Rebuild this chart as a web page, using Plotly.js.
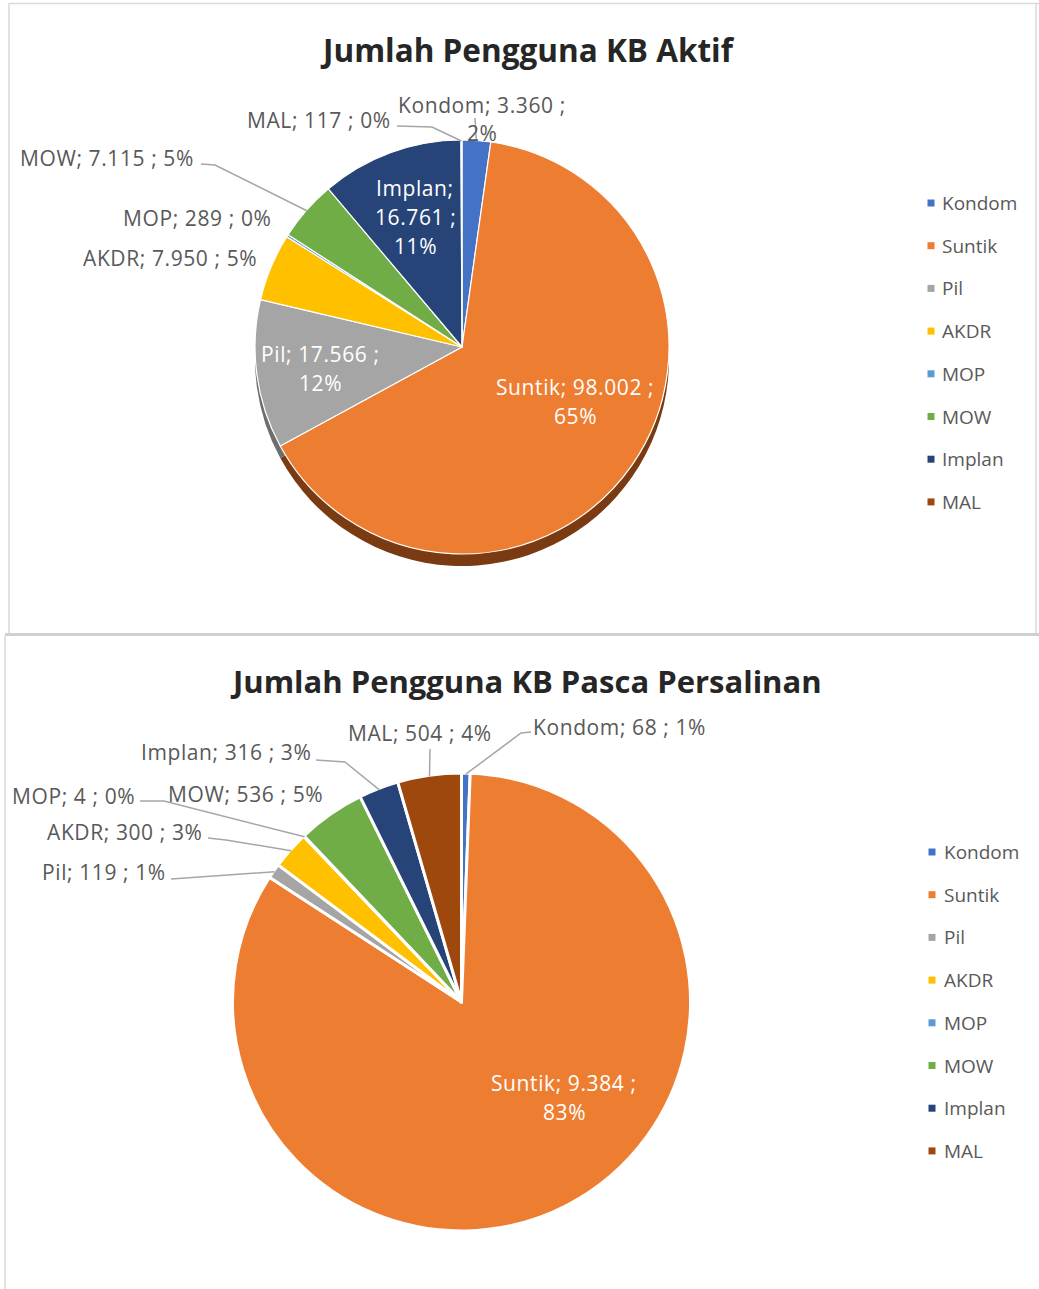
<!DOCTYPE html>
<html><head><meta charset="utf-8">
<script src="https://cdn.plot.ly/plotly-3.0.1.min.js"></script>
<style>html,body{margin:0;padding:0;background:#fff}</style>
</head><body><div id="chart" style="width:1039px;height:1289px"></div>
<script>
// ---------- DATA ----------
const categories = ['Kondom', 'Suntik', 'Pil', 'AKDR', 'MOP', 'MOW', 'Implan', 'MAL'];
const aktifValues = [3360, 98002, 17566, 7950, 289, 7115, 16761, 117];
const aktifPercent = ['2%', '65%', '12%', '5%', '0%', '5%', '11%', '0%'];
const pascaValues = [68, 9384, 119, 300, 4, 536, 316, 504];
const pascaPercent = ['1%', '83%', '1%', '3%', '0%', '5%', '3%', '4%'];
const titleAktif = 'Jumlah Pengguna KB Aktif';
const titlePasca = 'Jumlah Pengguna KB Pasca Persalinan';

// ---------- STYLE ----------
const W = 1039, H = 1289;
const sliceColors = ['#4472C4', '#ED7D31', '#A5A5A5', '#FFC000', '#5B9BD5', '#70AD47', '#264478', '#9E480E'];
const shadowColors = ['#2b4c86', '#7a3b12', '#6e6e6e', '#a87f00', '#3a6a98', '#4a7530', '#16294a', '#6a2f08'];
const FONT = 'Open Sans, Lato, sans-serif';
const LABEL_GRAY = '#595959';

const X = px => px / W;
const Y = py => 1 - py / H;

function fmt(v) { return String(v).replace(/\B(?=(\d{3})+(?!\d))/g, '.'); }

// label lines: mode 0 one line, 1 break before pct, 2 break after name & before pct
function labelLines(i, vals, pcts, mode) {
  const c = categories[i], v = fmt(vals[i]), p = pcts[i];
  if (mode === 1) return [c + '; ' + v + ' ;', p];
  if (mode === 2) return [c + ';', v + ' ;', p];
  return [c + '; ' + v + ' ; ' + p];
}

// point on pie edge at the middle angle of slice i (clockwise from 12 o'clock)
function edgePoint(vals, i, cx, cy, r, k) {
  const tot = vals.reduce((a, b) => a + b, 0);
  let cum = 0;
  for (let j = 0; j < i; j++) cum += vals[j];
  const mid = (cum + vals[i] / 2) / tot * 2 * Math.PI;
  return [cx + k * r * Math.sin(mid), cy - k * r * Math.cos(mid)];
}

function dom(cx, cy, r) {
  return { x: [X(cx - r), X(cx + r)], y: [Y(cy + r), Y(cy - r)] };
}

const pieA = { cx: 462, cy: 347, r: 207 };
const pieB = { cx: 461.5, cy: 1002, r: 229 };

const traces = [
  { type: 'pie', values: aktifValues, labels: categories, sort: false, direction: 'clockwise', rotation: 0,
    textinfo: 'none', hoverinfo: 'skip', showlegend: false,
    marker: { colors: shadowColors, line: { color: shadowColors, width: 0 } },
    domain: dom(pieA.cx, pieA.cy + 12, pieA.r) },
  { type: 'pie', values: aktifValues, labels: categories, sort: false, direction: 'clockwise', rotation: 0,
    textinfo: 'none', showlegend: false,
    marker: { colors: sliceColors, line: { color: '#ffffff', width: 1.2 } },
    domain: dom(pieA.cx, pieA.cy, pieA.r) },
  { type: 'pie', values: pascaValues, labels: categories, sort: false, direction: 'clockwise', rotation: 0,
    textinfo: 'none', showlegend: false,
    marker: { colors: sliceColors, line: { color: '#ffffff', width: 3 } },
    domain: dom(pieB.cx, pieB.cy, pieB.r) }
];

// label placement (layout): slice index, mode, centre px, colour, leader waypoints
const labelsA = [
  { i: 0, mode: 1, x: 482, y: 119, c: LABEL_GRAY, lead: [[475, 118]] },
  { i: 7, mode: 0, x: 319, y: 120, c: LABEL_GRAY, lead: [[397, 126], [432, 127]] },
  { i: 5, mode: 0, x: 107, y: 158, c: LABEL_GRAY, lead: [[201, 164], [215, 165]] },
  { i: 4, mode: 0, x: 197, y: 218, c: LABEL_GRAY },
  { i: 3, mode: 0, x: 170, y: 258, c: LABEL_GRAY },
  { i: 6, mode: 2, x: 415, y: 217, c: '#ffffff' },
  { i: 2, mode: 1, x: 320, y: 369, c: '#ffffff' },
  { i: 1, mode: 1, x: 575, y: 401, c: '#ffffff' }
];
const labelsB = [
  { i: 0, mode: 0, x: 619, y: 727, c: LABEL_GRAY, lead: [[531, 732], [521, 733]] },
  { i: 7, mode: 0, x: 420, y: 733, c: LABEL_GRAY, lead: [[430, 749]] },
  { i: 6, mode: 0, x: 226, y: 752, c: LABEL_GRAY, lead: [[316, 760], [345, 762]] },
  { i: 5, mode: 0, x: 245, y: 794, c: LABEL_GRAY },
  { i: 4, mode: 0, x: 73, y: 796, c: LABEL_GRAY, lead: [[140, 801], [164, 801]] },
  { i: 3, mode: 0, x: 125, y: 832, c: LABEL_GRAY, lead: [[208, 838], [226, 840]] },
  { i: 2, mode: 0, x: 104, y: 872, c: LABEL_GRAY, lead: [[171, 879]] },
  { i: 1, mode: 1, x: 564, y: 1097, c: '#ffffff' }
];

const annotations = [];
const shapes = [];
const LINE_H = 29;
const spaced = t => '<span style="letter-spacing:0.6px">' + t + '</span>';

function addLabels(list, vals, pcts, pie) {
  list.forEach(L => {
    const lines = labelLines(L.i, vals, pcts, L.mode);
    lines.forEach((t, j) => {
      annotations.push({ xref: 'paper', yref: 'paper', x: X(L.x), y: Y(L.y + (j - (lines.length - 1) / 2) * LINE_H),
        text: spaced(t), showarrow: false, xanchor: 'center', yanchor: 'middle',
        font: { family: FONT, size: 21, color: L.c } });
    });
    if (L.lead) {
      const tip = edgePoint(vals, L.i, pie.cx, pie.cy, pie.r, 0.995);
      const pts = L.lead.concat([tip]);
      const d = pts.map((p, k) => (k ? 'L' : 'M') + X(p[0]).toFixed(5) + ',' + Y(p[1]).toFixed(5)).join(' ');
      shapes.push({ type: 'path', xref: 'paper', yref: 'paper', path: d, line: { color: '#a6a6a6', width: 1.5 } });
    }
  });
}
addLabels(labelsA, aktifValues, aktifPercent, pieA);
addLabels(labelsB, pascaValues, pascaPercent, pieB);

// titles
annotations.push({ xref: 'paper', yref: 'paper', x: X(527), y: Y(50), text: '<b>' + titleAktif + '</b>', showarrow: false,
  xanchor: 'center', yanchor: 'middle', font: { family: FONT, size: 31.5, color: '#262626' } });
annotations.push({ xref: 'paper', yref: 'paper', x: X(526), y: Y(681), text: '<b>' + titlePasca + '</b>', showarrow: false,
  xanchor: 'center', yanchor: 'middle', font: { family: FONT, size: 31, color: '#262626' } });

// legends
function addLegend(mx, tx, y0, step) {
  categories.forEach((c, i) => {
    const y = y0 + i * step;
    shapes.push({ type: 'rect', xref: 'paper', yref: 'paper', x0: X(mx - 3.5), x1: X(mx + 3.5), y0: Y(y + 3.5), y1: Y(y - 3.5),
      fillcolor: sliceColors[i], line: { width: 0 } });
    annotations.push({ xref: 'paper', yref: 'paper', x: X(tx), y: Y(y), text: c, showarrow: false,
      xanchor: 'left', yanchor: 'middle', font: { family: FONT, size: 19, color: LABEL_GRAY } });
  });
}
addLegend(931, 940, 203, 42.7);
addLegend(932, 942, 852, 42.7);

// chart frames
const frame = { color: '#d9d9d9', width: 1.5 };
shapes.push({ type: 'line', xref: 'paper', yref: 'paper', x0: X(9), x1: X(1039), y0: Y(3.5), y1: Y(3.5), line: frame, layer: 'below' });
shapes.push({ type: 'line', xref: 'paper', yref: 'paper', x0: X(9), x1: X(9), y0: Y(3.5), y1: Y(634), line: frame, layer: 'below' });
shapes.push({ type: 'line', xref: 'paper', yref: 'paper', x0: X(1036), x1: X(1036), y0: Y(3.5), y1: Y(633), line: frame, layer: 'below' });
shapes.push({ type: 'line', xref: 'paper', yref: 'paper', x0: X(5), x1: X(1039), y0: Y(634.5), y1: Y(634.5), line: { color: '#d0d0d0', width: 3 }, layer: 'below' });
shapes.push({ type: 'line', xref: 'paper', yref: 'paper', x0: X(5), x1: X(5), y0: Y(636), y1: Y(1289), line: frame, layer: 'below' });

const layout = {
  width: W, height: H, margin: { l: 0, r: 0, t: 0, b: 0 },
  paper_bgcolor: '#ffffff', plot_bgcolor: '#ffffff', showlegend: false,
  font: { family: FONT },
  annotations: annotations, shapes: shapes
};
Plotly.newPlot('chart', traces, layout, { displayModeBar: false, staticPlot: true });
</script>
</body></html>
